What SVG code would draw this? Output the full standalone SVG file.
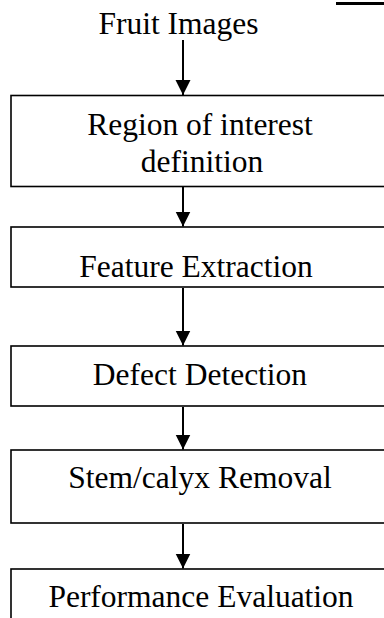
<svg xmlns="http://www.w3.org/2000/svg" width="384" height="618" viewBox="0 0 384 618">
<style>
.box{fill:#fff;stroke:#000;stroke-width:1.6}
.lbl{font-family:"Liberation Serif","Times New Roman",serif;font-size:31.5px;fill:#000;text-anchor:middle}
.con{stroke:#000;stroke-width:2;fill:none}
</style>
<defs>
<marker id="ah" markerWidth="15" markerHeight="16" refX="15" refY="7.5" orient="auto" markerUnits="userSpaceOnUse">
<path d="M0,0 L15,7.5 L0,15 Z" fill="#000"/>
</marker>
</defs>
<rect width="384" height="618" fill="#fff"/>
<rect x="336" y="2" width="48" height="3" fill="#000"/>
<g id="fruit-images"><text class="lbl" x="178.5" y="34">Fruit Images</text></g>
<g id="roi"><rect class="box" x="11" y="95.5" width="400" height="91"/><text class="lbl" x="200" y="135">Region of interest</text><text class="lbl" x="202" y="172">definition</text></g>
<g id="feature"><rect class="box" x="11" y="227" width="400" height="60"/><text class="lbl" x="196" y="277">Feature Extraction</text></g>
<g id="defect"><rect class="box" x="11" y="346" width="400" height="60"/><text class="lbl" x="200" y="385">Defect Detection</text></g>
<g id="stem"><rect class="box" x="11" y="450" width="400" height="73"/><text class="lbl" x="200" y="488">Stem/calyx Removal</text></g>
<g id="performance"><rect class="box" x="11" y="569" width="400" height="80"/><text class="lbl" x="201" y="607">Performance Evaluation</text></g>
<g id="connectors">
<line class="con" x1="183" y1="40" x2="183" y2="95" marker-end="url(#ah)"/>
<line class="con" x1="183" y1="187" x2="183" y2="226.5" marker-end="url(#ah)"/>
<line class="con" x1="183" y1="288" x2="183" y2="345.5" marker-end="url(#ah)"/>
<line class="con" x1="183" y1="407" x2="183" y2="449.5" marker-end="url(#ah)"/>
<line class="con" x1="183" y1="524" x2="183" y2="568.5" marker-end="url(#ah)"/>
</g>
</svg>
